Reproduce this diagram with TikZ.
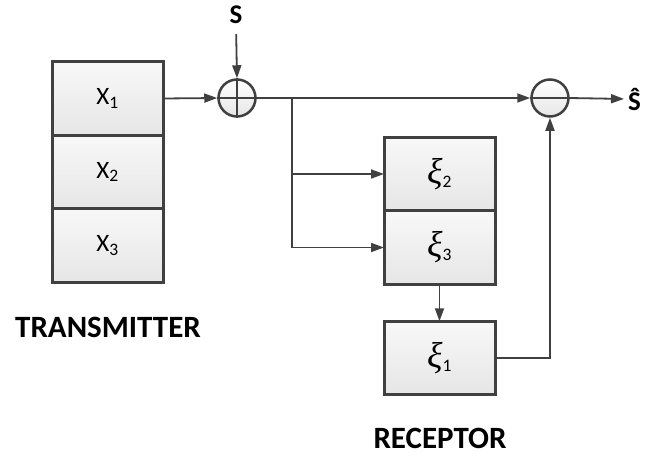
\documentclass[tikz,border=0pt]{standalone}
\usepackage{fontspec}
\setmainfont{Carlito}
\newfontfamily\xifont{Liberation Serif}
\usetikzlibrary{arrows.meta,positioning,calc}
\definecolor{linegray}{HTML}{404040}
\definecolor{boxtop}{HTML}{F8F8F8}
\definecolor{boxbot}{HTML}{E6E6E6}
\newcommand{\xisym}[1]{{\xifont\itshape\fontsize{36}{38}\selectfont ξ}\textsubscript{#1}}

\begin{document}
\begin{tikzpicture}[x=1pt, y=-1pt,
  block/.style={draw=linegray, line width=3pt, top color=boxtop, bottom color=boxbot, minimum width=111pt, minimum height=73.5pt, inner sep=0pt, outer sep=0pt, font=\fontsize{25}{28}\selectfont},
  sumnode/.style={circle, draw=linegray, line width=2.5pt, top color=white, bottom color=boxbot, minimum size=37pt, inner sep=0pt},
  lbl/.style={font=\fontsize{31}{34}\selectfont\bfseries, inner sep=1pt},
  sym/.style={font=\fontsize{27}{30}\selectfont\bfseries, inner sep=1pt},
  arr/.style={-{Triangle[length=13pt,width=9pt]}, line width=1.8pt, draw=linegray}
]
\useasboundingbox (0,0) rectangle (646,458);
% transmitter
\node[block] (x1) at (107.5,98.5) {X\textsubscript{1}};
\node[block, below=0pt of x1] (x2) {X\textsubscript{2}};
\node[block, below=0pt of x2] (x3) {X\textsubscript{3}};
\node[lbl] (tx) at (108,327) {TRANSMITTER};
% adder and subtractor
\node[sumnode] (add) at (237,98) {};
\draw[linegray, line width=1.8pt] (add.north) -- (add.south) (add.west) -- (add.east);
\node[sym] (s) at (236,15) {S};
\node[sumnode] (sub) at (550,98) {};
\draw[linegray, line width=1.8pt] (sub.west) -- (sub.east);
\node[sym, anchor=west] (shat) at (627,99) {\^S};
% receptor
\node[block] (xi2) at (439.5,174) {\xisym{2}};
\node[block, below=0pt of xi2] (xi3) {\xisym{3}};
\node[block, below=37pt of xi3] (xi1) {\xisym{1}};
\node[lbl] (rx) at (440,438) {RECEPTOR};
\coordinate (br) at (292,98);
% connectors
\draw[arr] (x1.east) -- (add.west);
\draw[arr, shorten <=9pt] (s.south) -- (add.north);
\draw[arr] (add.east) -- (sub.west);
\draw[arr] (br) |- (xi2.west);
\draw[arr] (br) |- (xi3.west);
\draw[arr] (xi3) -- (xi1);
\draw[arr] (xi1.east) -| (sub.south);
\draw[arr, shorten >=3pt] (sub.east) -- (shat.west);
\end{tikzpicture}
\end{document}
